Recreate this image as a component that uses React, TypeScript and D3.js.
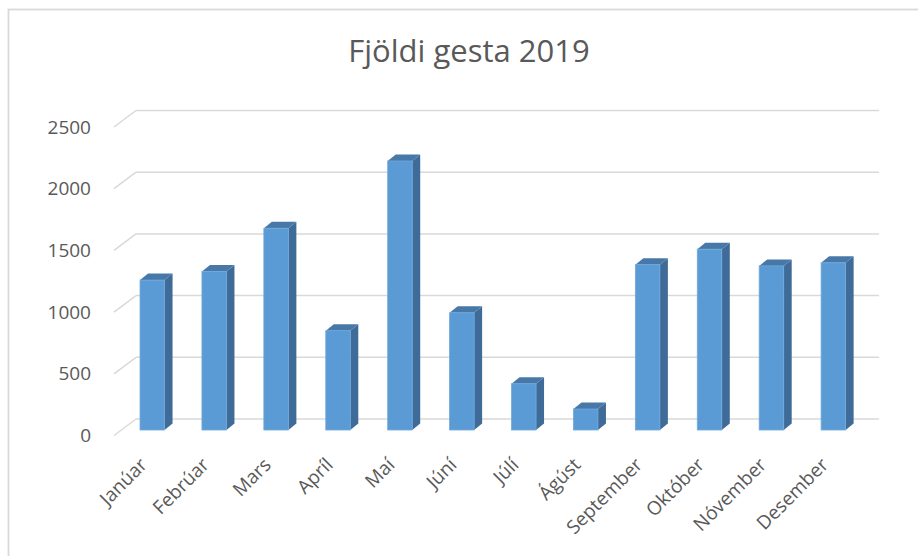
import React from "react";
import * as d3 from "d3";

const title = "Fjöldi gesta 2019";
const months = ["Janúar", "Febrúar", "Mars", "Apríl", "Maí", "Júní", "Júlí", "Ágúst", "September", "Október", "Nóvember", "Desember"];
const guests = [1215, 1285, 1635, 805, 2180, 950, 375, 170, 1340, 1465, 1330, 1355];
const yTicks = [0, 500, 1000, 1500, 2000, 2500];

const W = 918;
const H = 556;
const FONT = "'Open Sans', 'Noto Sans', sans-serif";
const TEXT = "#595959";
const GRID = "#d9d9d9";

// depth of the floor (back wall -> front edge)
const DX = -22;
const DY = 16.5;
const BAR_DEPTH_FRAC = 0.667;
const BDX = 8;
const BDY = -6.5;

export default function App() {
  const x = d3.scaleBand<string>().domain(months).range([136, 879]).paddingInner(0.604).paddingOuter(0.302);
  const y = d3.scaleLinear().domain([0, 2500]).range([419, 110.5]);
  const offX = DX * BAR_DEPTH_FRAC;
  const offY = DY * BAR_DEPTH_FRAC;
  const bw = x.bandwidth();

  return (
    <svg width={W} height={H} style={{ position: "absolute", left: 0, top: 0, background: "#fff" }} fontFamily={FONT}>
      <rect x={8.5} y={9.5} width={W + 20} height={H + 20} fill="#fff" stroke={GRID} strokeWidth={1.8} />
      <text x={469} y={62} textAnchor="middle" fontSize={31} fill={TEXT}>{title}</text>
      {yTicks.map((t) => (
        <g key={t}>
          <line x1={x.range()[0]} x2={x.range()[1]} y1={y(t)} y2={y(t)} stroke={GRID} strokeWidth={1.5} />
          <line x1={x.range()[0] + DX} y1={y(t) + DY} x2={x.range()[0]} y2={y(t)} stroke={GRID} strokeWidth={1.5} />
          <text x={91} y={y(t) + DY} dy="0.35em" textAnchor="end" fontSize={19} fill={TEXT}>{t}</text>
        </g>
      ))}
      {months.map((m, i) => {
        const x0 = (x(m) as number) + offX;
        const x1 = x0 + bw;
        const yb = y(0) + offY;
        const yt = y(guests[i]) + offY;
        return (
          <g key={m}>
            <polygon points={`${x1},${yt} ${x1 + BDX},${yt + BDY} ${x1 + BDX},${yb + BDY} ${x1},${yb}`} fill="#3e6b97" />
            <polygon points={`${x0},${yt} ${x0 + BDX},${yt + BDY} ${x1 + BDX},${yt + BDY} ${x1},${yt}`} fill="#4878a8" />
            <rect x={x0} y={yt} width={bw} height={yb - yt} fill="#5b9bd5" stroke="#6fa8dc" strokeWidth={0.8} />
          </g>
        );
      })}
      {months.map((m) => {
        const cx = (x(m) as number) + offX + bw / 2;
        return (
          <text key={m} transform={`translate(${cx - 4},${466}) rotate(-45)`} textAnchor="end" fontSize={19} fill={TEXT}>{m}</text>
        );
      })}
    </svg>
  );
}
